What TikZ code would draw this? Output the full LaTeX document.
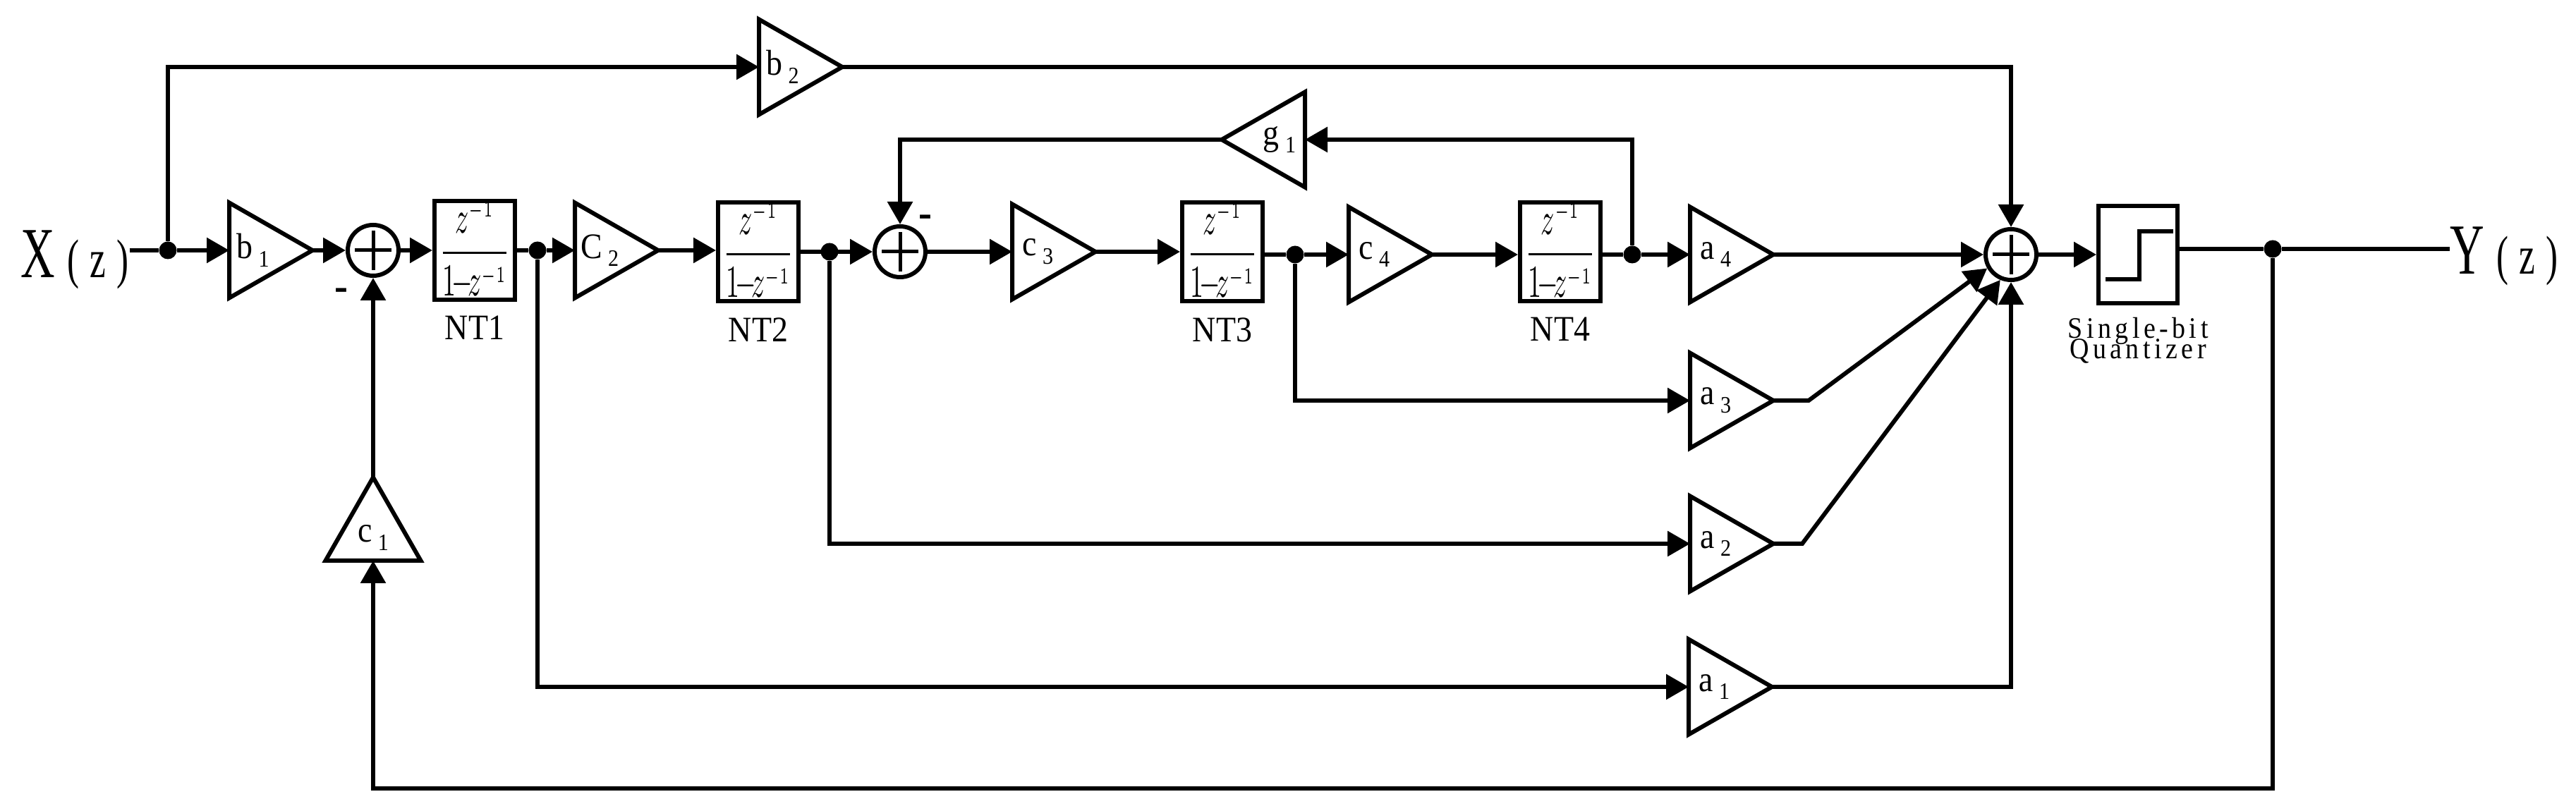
\documentclass[tikz,border=0pt]{standalone}
\usepackage{fontspec}
\usepackage{amsmath}
\setmainfont[FakeStretch=0.9]{Liberation Serif}
\newfontfamily\iofont[FakeStretch=0.66,LetterSpace=20]{Liberation Serif}
\newfontfamily\qzfont[FakeStretch=0.9,LetterSpace=13]{Liberation Serif}
\usetikzlibrary{arrows.meta,positioning,shapes.geometric}
\tikzset{
  wire/.style={line width=0.6mm},
  sig/.style={wire, -{Triangle[length=3.2mm,width=3.5mm]}},
  gain/.style={isosceles triangle, isosceles triangle stretches, draw, line width=0.6mm, fill=white,
    minimum height=1.18cm, minimum width=1.35cm, inner sep=0pt, outer sep=0pt, anchor=lower side,
    font=\fontsize{14.5}{16}\selectfont},
  ntbox/.style={rectangle, draw, line width=0.6mm, minimum width=1.14cm, minimum height=1.38cm, inner sep=0pt},
  ntlab/.style={inner sep=0pt, font=\fontsize{14.5}{16}\selectfont},
  adder/.style={circle, draw, line width=0.6mm, minimum size=0.72cm, inner sep=0pt,
    path picture={\draw[line width=0.5mm] (path picture bounding box.center) +(-0.26,0) -- +(0.26,0)
      (path picture bounding box.center) +(0,-0.28) -- +(0,0.28);}},
  jct/.style={circle, fill=black, minimum size=2.5mm, inner sep=0pt},
  ioport/.style={inner sep=0pt, anchor=base west},
  minus/.style={inner sep=0pt, font=\fontsize{18}{18}\selectfont\bfseries},
  quant/.style={rectangle, draw, line width=0.6mm, minimum width=1.12cm, minimum height=1.38cm, inner sep=0pt,
    path picture={\draw[line width=0.6mm] (path picture bounding box.center) +(-0.46,-0.35) -- +(0.02,-0.35)
      -- +(0.02,0.33) -- +(0.5,0.33);}},
}
\newcommand{\gsub}[1]{\,\raisebox{-.5ex}{\fontsize{9.5}{10}\selectfont #1}}
\newcommand{\ntfrac}{\scalebox{1.08}[1.85]{$\displaystyle\frac{z^{\scriptscriptstyle -1}}{1\!{-}\!z^{\scriptscriptstyle -1}}$}}
\newcommand{\iolabel}[1]{{\iofont\fontsize{29}{30}\selectfont #1\,\fontsize{22}{24}\selectfont (z)}}

\begin{document}
\begin{tikzpicture}
\useasboundingbox (0,0) rectangle (36.52,11.49);
% top row
\node[ioport] (xin) at (0.29,7.55) {\iolabel{X}};
\node[jct] (j0) at (2.38,7.94) {};
\node[gain] (b1) at (3.25,7.94) {b\gsub{1}};
\node[adder] (s1) at (5.29,7.94) {};
\node[ntbox] (nt1) at (6.73,7.94) {\ntfrac};
\node[jct] (j1) at (7.62,7.94) {};
\node[gain] (c2) at (8.15,7.94) {C\gsub{2}};
\node[ntbox] (nt2) at (10.75,7.92) {\ntfrac};
\node[jct] (j2) at (11.76,7.92) {};
\node[adder] (s2) at (12.76,7.92) {};
\node[gain] (c3) at (14.35,7.92) {c\gsub{3}};
\node[ntbox] (nt3) at (17.33,7.92) {\ntfrac};
\node[jct] (j3) at (18.36,7.88) {};
\node[gain] (c4) at (19.12,7.88) {c\gsub{4}};
\node[ntbox] (nt4) at (22.12,7.92) {\ntfrac};
\node[jct] (j4) at (23.14,7.88) {};
\node[gain] (a4) at (23.96,7.88) {a\gsub{4}};
\node[adder] (s3) at (28.51,7.88) {};
\node[quant] (q) at (30.31,7.88) {};
\node[jct] (j5) at (32.22,7.96) {};
\node[ioport] (yout) at (34.73,7.60) {\iolabel{Y}};
% block names
\node[ntlab, below=0.2cm of nt1] (l1) {NT1};
\node[ntlab, below=0.2cm of nt2] (l2) {NT2};
\node[ntlab, below=0.2cm of nt3] (l3) {NT3};
\node[ntlab, below=0.2cm of nt4] (l4) {NT4};
\node[inner sep=0pt, align=center, below=0.17cm of q, font=\qzfont\fontsize{12}{9.2}\selectfont] (ql) {Single-bit\\[-3.5pt]Quantizer};
\node[minus] (m1) at (4.84,7.31) {-};
\node[minus] (m2) at (13.12,8.35) {-};
% other gains
\node[gain] (b2) at (10.76,10.54) {b\gsub{2}};
\node[gain, shape border rotate=180] (g1) at (18.50,9.51) {g\gsub{1}};
\node[gain, shape border rotate=90] (c1) at (5.29,3.54) {c\gsub{1}};
\node[gain] (a3) at (23.96,5.81) {a\gsub{3}};
\node[gain] (a2) at (23.96,3.78) {a\gsub{2}};
\node[gain] (a1) at (23.94,1.75) {a\gsub{1}};
\coordinate (e3) at (25.64,5.81);
\coordinate (e2) at (25.55,3.78);
\coordinate (cb) at (5.29,0.31);
% forward path
\draw[wire] (xin.east |- j0) -- (j0);
\draw[sig] (j0) -- (b1.lower side);
\draw[sig] (b1.apex) -- (s1.west);
\draw[sig] (s1.east) -- (nt1.west);
\draw[wire] (nt1.east) -- (j1);
\draw[sig] (j1) -- (c2.lower side);
\draw[sig] (c2.apex) -- (c2.apex -| nt2.west);
\draw[sig] (j2 -| nt2.east) -- (s2.west);
\draw[sig] (s2.east) -- (c3.lower side);
\draw[sig] (c3.apex) -- (nt3.west);
\draw[wire] (j3 -| nt3.east) -- (j3);
\draw[sig] (j3) -- (c4.lower side);
\draw[sig] (c4.apex) -- (c4.apex -| nt4.west);
\draw[wire] (j4 -| nt4.east) -- (j4);
\draw[sig] (j4) -- (a4.lower side);
\draw[sig] (a4.apex) -- (s3.west);
\draw[sig] (s3.east) -- (q.west);
\draw[wire] (j5 -| q.east) -- (j5);
\draw[wire] (j5) -- (j5 -| yout.west);
% branches
\draw[sig] (j0) |- (b2.lower side);
\draw[sig] (b2.apex) -| (s3.north);
\draw[sig] (j4) |- (g1.lower side);
\draw[sig] (g1.apex) -| (s2.north);
\draw[sig] (j3) |- (a3.lower side);
\draw[sig] (j2) |- (a2.lower side);
\draw[sig] (j1) |- (a1.lower side);
\draw[sig] (a3.apex) -- (e3) -- (s3.-150);
\draw[sig] (a2.apex) -- (e2) -- (s3.-113);
\draw[sig] (a1.apex) -| (s3.south);
\draw[sig] (j5) |- (cb) -- (c1.lower side);
\draw[sig] (c1.apex) -- (s1.south);
\end{tikzpicture}
\end{document}
